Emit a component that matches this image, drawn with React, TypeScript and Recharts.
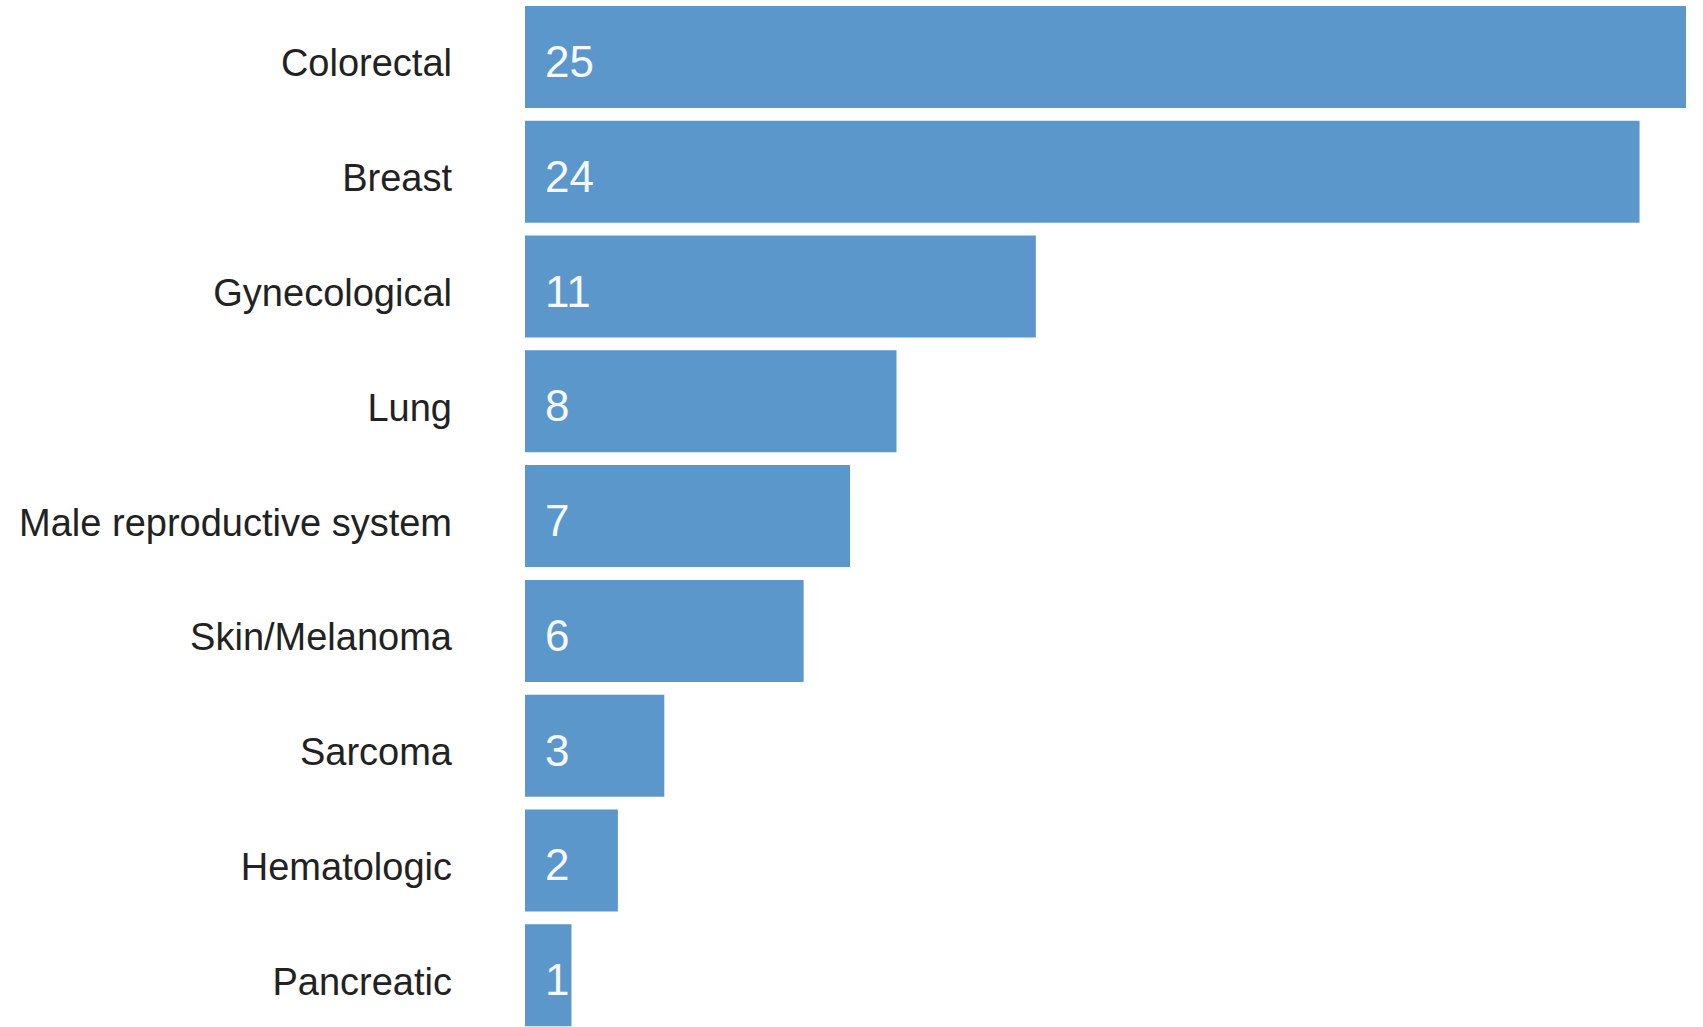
import React from "react";
import { BarChart, Bar, XAxis, YAxis, LabelList } from "recharts";

const categories = [
  "Colorectal",
  "Breast",
  "Gynecological",
  "Lung",
  "Male reproductive system",
  "Skin/Melanoma",
  "Sarcoma",
  "Hematologic",
  "Pancreatic",
];
const counts = [25, 24, 11, 8, 7, 6, 3, 2, 1];

const data = categories.map((name, i) => ({ name, value: counts[i] }));

const FONT = "'Liberation Sans', Arial, sans-serif";

const CategoryTick = (props: any) => {
  const { x, y, payload } = props;
  return (
    <text
      x={x}
      y={y + 19}
      textAnchor="end"
      fontFamily={FONT}
      fontSize={38}
      fill="#222222"
    >
      {payload.value}
    </text>
  );
};

const ValueLabel = (props: any) => {
  const { x, y, height, value } = props;
  return (
    <text
      x={x + 20}
      y={y + height / 2 + 20}
      textAnchor="start"
      fontFamily={FONT}
      fontSize={44}
      fill="#f4f9ff"
    >
      {value}
    </text>
  );
};

export default function App() {
  return (
    <div
      style={{
        position: "fixed",
        top: 0,
        left: 0,
        width: 1703,
        height: 1027,
        overflow: "hidden",
        background: "#ffffff",
      }}
    >
      <BarChart
        width={1703}
        height={1033}
        data={data}
        layout="vertical"
        margin={{ top: 0, right: 17, bottom: 0, left: 0 }}
      >
        <XAxis type="number" domain={[0, 25]} hide />
        <YAxis
          type="category"
          dataKey="name"
          width={525}
          axisLine={false}
          tickLine={false}
          tickSize={0}
          tickMargin={73}
          interval={0}
          tick={<CategoryTick />}
        />
        <Bar dataKey="value" fill="#5b97ca" barSize={102} isAnimationActive={false}>
          <LabelList dataKey="value" content={<ValueLabel />} />
        </Bar>
      </BarChart>
    </div>
  );
}
